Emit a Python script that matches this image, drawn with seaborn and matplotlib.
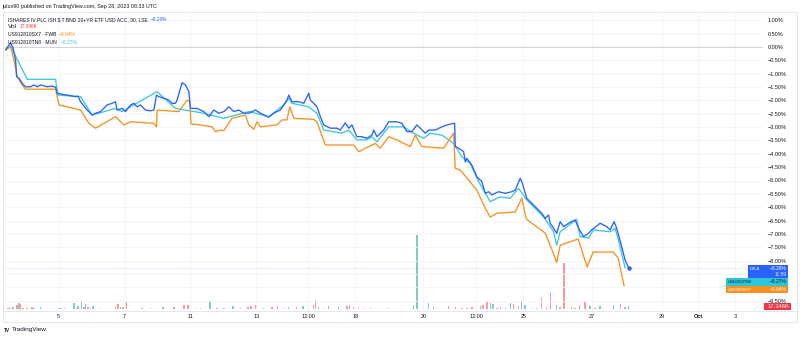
import matplotlib
matplotlib.use("Agg")
import matplotlib.pyplot as plt
from matplotlib.patches import Rectangle
import numpy as np
import pandas as pd
import seaborn as sns

sns.set_theme(style="white")
plt.rcParams['font.family'] = ['Liberation Sans', 'DejaVu Sans']

# ---------------- data (x = 30-min bar index, y = % change) ----------------
dtla_x = [0, 1.7, 2.5, 3.8, 5, 5.5, 6.7, 8.3, 10, 12.5, 14.2, 15.8, 17.5, 20.8, 23.3, 25, 25.8, 27.5, 30.8, 35,
          36.2, 37.5, 40.8, 43.3, 45, 47.5, 50.8, 53.3, 55, 55.8, 58.3, 60, 62.5, 64.2, 65.8, 67.5, 70, 72.5, 74.2,
          75.5, 76.7, 79.2, 81.7, 83.3, 85, 85.8, 88.3, 90, 91.7, 92.5, 95.8, 99.2, 101.7, 104.2, 106.7, 109.2,
          111.7, 114.2, 116.7, 119.2, 121.7, 125, 127.5, 131.7, 134.2, 137.5, 140.8, 141.7, 143.3, 146.7, 149.2,
          151.7, 152.5, 154.2, 155.8, 157.5, 159.2, 162.5, 165.8, 167.5, 170, 171.7, 173.3, 175.8, 178.3, 180.8,
          183.3, 184.2, 185.8, 189.2, 191.7, 195.8, 198.3, 200.8, 203.3, 205.8, 207.5, 210, 211.7, 215, 218.3,
          220.8, 224.2, 224.7, 225, 226.7, 229.2, 230, 230.8, 233.3, 235.8, 238.3, 240, 241.7, 243.3, 246.7, 250,
          253.3, 255, 257.5, 258.3, 260.8, 264.2, 268.3, 270, 271.7, 272.5, 274.2, 275.8, 277.5, 279.2, 281.7,
          285, 286.7, 289.2, 291.7, 293.3, 297.5, 300.8, 302.5, 304.5, 305.8, 308.3, 310, 311.7]
dtla_y = [-0.11, 0.07, 0.16, -0.05, -0.49, -1.11, -1.17, -1.36, -1.49, -1.49, -1.42, -1.49, -1.42, -1.49, -1.46,
          -1.51, -1.73, -1.76, -1.80, -1.86, -1.84, -2.05, -2.36, -2.55, -2.48, -2.42, -2.17, -2.11, -2.05, -2.36,
          -2.30, -2.42, -2.17, -2.11, -2.24, -2.17, -2.36, -2.39, -2.36, -1.80, -1.86, -1.92, -1.99, -2.11, -2.11,
          -1.99, -1.34, -1.42, -1.67, -2.30, -2.30, -2.42, -2.61, -2.36, -2.48, -2.42, -2.24, -2.42, -2.36, -2.48,
          -2.48, -2.36, -2.48, -2.63, -2.48, -2.36, -1.99, -1.80, -2.05, -2.05, -2.11, -1.73, -1.99, -2.11, -2.24,
          -2.61, -2.92, -3.04, -3.04, -3.11, -2.84, -3.04, -2.92, -3.36, -3.36, -3.42, -3.30, -3.11, -3.36, -3.11,
          -2.80, -2.80, -2.86, -3.17, -3.17, -2.92, -3.04, -3.23, -3.11, -3.11, -2.99, -2.92, -2.86, -2.86, -3.73,
          -3.79, -3.92, -4.30, -4.17, -4.42, -4.86, -5.04, -5.48, -5.42, -5.54, -5.42, -5.48, -5.42, -5.36, -4.92,
          -5.04, -5.67, -5.92, -6.23, -6.42, -6.29, -6.60, -6.79, -6.98, -6.54, -6.73, -6.60, -6.48, -6.79, -7.10,
          -6.98, -6.85, -6.60, -6.73, -6.85, -6.54, -6.79, -7.48, -7.98, -8.26]

mun_x = [0, 2.5, 10.8, 25, 26.2, 37.5, 43.3, 55, 58.3, 75.8, 85, 99.2, 109.2, 121.7, 131.7, 139.2, 141.7, 143.3,
         151.7, 155.8, 159.2, 168.3, 171.7, 175.8, 180.8, 183.3, 185.8, 191.7, 199.2, 204.2, 209.2, 212.5, 218.3,
         224.2, 228.3, 232.5, 236.7, 242.5, 247.5, 252.5, 256.7, 260.8, 269.2, 274.2, 275.8, 277.5, 285.8, 287.5,
         291.7, 294.2, 302.5, 305, 306.7, 310]
mun_y = [-0.11, 0.04, -1.21, -1.21, -1.80, -1.86, -2.55, -2.30, -2.42, -1.67, -2.30, -2.48, -2.67, -2.42, -2.61,
         -2.17, -1.92, -2.11, -2.24, -2.48, -3.11, -3.23, -3.11, -3.48, -3.48, -3.36, -3.55, -2.99, -2.99, -3.23,
         -3.42, -3.23, -3.30, -3.61, -4.11, -4.36, -5.04, -5.79, -5.61, -5.67, -5.29, -5.73, -6.36, -6.92, -7.42,
         -6.92, -6.45, -7.10, -7.16, -6.85, -6.92, -6.79, -7.23, -8.27]

fwb_x = [0, 2.5, 4.2, 5.8, 8.3, 10, 25, 26.7, 37.5, 41.7, 45, 55, 59.2, 62.5, 74.2, 75.5, 75.8, 86.7, 90.8, 92.2,
         92.8, 97.5, 103.3, 105, 107.5, 109.2, 113.3, 120, 121.7, 124.2, 125.8, 127.5, 135.8, 138.3, 140.8, 142.2,
         144.2, 154.2, 155.8, 160, 174.2, 176.7, 185, 187.5, 191.7, 195.8, 202.5, 205, 208.3, 219.2, 224.2, 225,
         227.5, 235.8, 240, 242.5, 246, 255, 258.3, 260.5, 270, 272.5, 275.8, 277.5, 286.5, 291, 294, 304, 306.5,
         309.5]
fwb_y = [-0.11, 0.01, -0.49, -1.11, -1.42, -1.58, -1.58, -2.17, -2.36, -2.86, -3.04, -2.61, -2.92, -2.80, -2.86,
         -2.99, -2.36, -2.42, -1.99, -2.05, -2.88, -2.92, -2.99, -3.17, -3.11, -3.13, -2.67, -2.55, -2.92, -3.08,
         -2.80, -2.99, -2.92, -2.73, -2.73, -2.24, -2.67, -2.71, -2.80, -3.67, -3.67, -3.92, -3.61, -3.79, -3.36,
         -3.48, -3.73, -3.30, -3.73, -3.79, -3.23, -4.54, -4.61, -5.36, -6.04, -6.37, -6.22, -6.18, -5.66, -6.44,
         -6.97, -7.42, -8.07, -7.42, -7.19, -8.24, -7.68, -7.68, -7.90, -8.95]

# volume (thousands) per bar, up=1 teal / 0 red
vol_x = [1.2, 2.2, 3.8, 5.8, 6.7, 7.5, 8.8, 10.8, 13.3, 14.2, 17.5, 21.7, 24.2, 26.7, 27.8, 29.5, 31.7, 34.2,
         35.5, 36.2, 38, 39.2, 40, 41.3, 42.5, 43.7, 47, 50, 52.5, 55, 56.3, 57.5, 58.8, 60.3, 64.2, 68.3, 72.5,
         75, 78.8, 84.2, 86.7, 89.2, 91.3, 95, 97.5, 102.2, 105.8, 109.2, 113.8, 117.5, 121.2, 122.8, 125.3,
         129.2, 133.3, 136.2, 139.2, 141.7, 145.5, 148.8, 151.7, 154.2, 155, 156.7, 159.2, 161.7, 166.7, 170.8,
         172.2, 174.2, 176.7, 179.2, 182.5, 187.5, 191.7, 195, 204.2, 205.8, 211.7, 214.2, 217.5, 221.7, 225,
         228.3, 230.8, 233.3, 235.5, 237.5, 238.8, 240.8, 242.5, 243.8, 245.8, 247.5, 250, 252.5, 254.2, 256.7,
         258.3, 260, 263.3, 265.8, 268.3, 270.8, 272.8, 275.8, 277.5, 279.5, 283.3, 285, 287.2, 290, 292.5, 295,
         297.5, 300.8, 304.2, 307.8, 310, 311.7]
vol_k = [5, 9, 14, 23, 32, 28, 7, 5, 14, 7, 14, 4, 4, 7, 7, 7, 4, 32, 7, 18, 40, 14, 28, 14, 7, 18, 9, 4, 4,
         14, 28, 14, 10, 40, 4, 7, 7, 4, 12, 10, 4, 21, 23, 7, 5, 44, 5, 5, 19, 5, 14, 19, 25, 9, 14, 18, 5, 10,
         14, 18, 21, 23, 49, 14, 7, 18, 10, 18, 21, 14, 7, 5, 7, 4, 7, 4, 23, 390, 32, 10, 4, 18, 14, 9, 5, 14,
         18, 18, 23, 40, 35, 28, 7, 10, 5, 32, 26, 18, 46, 23, 5, 7, 58, 10, 89, 23, 14, 242, 14, 9, 23, 40, 18,
         5, 18, 4, 23, 28, 10, 17.346]
vol_up = [0, 0, 0, 1, 0, 0, 0, 0, 0, 0, 1, 0, 1, 1, 1, 0, 0, 1, 0, 1, 1, 0, 1, 0, 0, 1, 0, 0, 0, 0, 0, 1, 0,
          0, 0, 0, 0, 0, 1, 0, 0, 0, 0, 0, 0, 1, 0, 1, 1, 0, 0, 0, 0, 1, 0, 0, 1, 0, 0, 1, 1, 0, 0, 1, 0, 1, 1,
          0, 0, 0, 0, 0, 1, 0, 1, 0, 1, 1, 1, 1, 0, 0, 0, 0, 0, 0, 0, 0, 0, 0, 1, 1, 0, 0, 0, 1, 0, 0, 1, 1, 0,
          0, 0, 0, 0, 1, 0, 0, 0, 0, 0, 0, 1, 0, 1, 0, 1, 0, 1, 1]

tick_pos = [26.5, 59.5, 92.5, 125.5, 151.5, 175, 209, 235.5, 259, 293.5, 328.5, 346.5, 365]
tick_lab = ["5", "7", "11", "13", "12:00", "18", "20", "12:00", "25", "27", "29", "Oct", "3"]
y_ticks = [1.0 - 0.5 * i for i in range(22)]
y_hidden = [-8.5, -9.0]   # covered by the last-value labels

# ---------------- layout ----------------
W, H = 800, 338
fig = plt.figure(figsize=(W / 100, H / 100), dpi=100)
fig.patch.set_facecolor("white")
renderer = fig.canvas.get_renderer()
L, R, T, B = 5, 763, 13, 311
pos = [L / W, 1 - B / H, (R - L) / W, (B - T) / H]

vax = fig.add_axes(pos)
ax = fig.add_axes(pos, sharex=vax)
ax.patch.set_alpha(0)

XMIN, XMAX = -0.3, 379
TEXT = "#131722"
FS = 4.0

# volume
vdf = pd.DataFrame({"x": vol_x, "k": vol_k, "up": vol_up})
vcol = ["#089981" if u else "#F23645" for u in vdf.up]
vax.bar(vdf.x, vdf.k, width=0.7, color=vcol, alpha=0.5, linewidth=0)
vax.set_ylim(-9, 1565)
vax.set_yticks([])
vax.tick_params(axis="x", which="both", length=0, labelbottom=False, labeltop=False)
for s in vax.spines.values():
    s.set_visible(False)
vax.set_xlim(XMIN, XMAX)

# gridlines
for v in y_ticks:
    ax.axhline(v, color="#F3F4F8", lw=0.6, zorder=0)
for p in tick_pos:
    ax.axvline(p, color="#F3F4F8", lw=0.6, zorder=0)
ax.axhline(0, color="#D1D4DC", lw=0.8, zorder=1)
ax.axhline(-8.26, color="#2962FF", lw=0.6, ls=(0, (1, 1.5)), alpha=0.3, zorder=1)

series = [(mun_x, mun_y, "#3CC9D9"), (fwb_x, fwb_y, "#F7921E"), (dtla_x, dtla_y, "#2962FF")]
for xs, ys, c in series:
    sns.lineplot(x=xs, y=ys, ax=ax, color=c, lw=0.95, sort=False, estimator=None, zorder=3)
ax.plot([dtla_x[-1]], [dtla_y[-1]], "o", color="#2962FF", ms=2.2, zorder=4)

ax.set_xlim(XMIN, XMAX)
ax.set_ylim((47 - B) / 26.7, (47 - T) / 26.7)
ax.yaxis.tick_right()
ax.set_yticks(y_ticks)
ax.set_yticklabels(["" if v in y_hidden else f"{v:.2f}%".replace("-", "\u2212") for v in y_ticks])
ax.tick_params(axis="y", length=0, pad=3.2, labelsize=FS, labelcolor=TEXT)
ax.set_xticks(tick_pos)
ax.set_xticklabels(tick_lab)
ax.tick_params(axis="x", length=0, pad=2.2, labelsize=FS, labelcolor=TEXT, labelbottom=True)
for lab in ax.get_xticklabels():
    if lab.get_text() == "Oct":
        lab.set_fontweight("bold")
ax.set_xlabel("")
ax.set_ylabel("")
for s in ax.spines.values():
    s.set_visible(False)

# frames
fig.add_artist(Rectangle((3 / W, 1 - 322 / H), 794 / W, 310 / H, transform=fig.transFigure,
                         fill=False, edgecolor="#E0E3EB", lw=0.6))
fig.add_artist(plt.Line2D([3 / W, 797 / W], [1 - B / H, 1 - B / H], transform=fig.transFigure,
                          color="#E0E3EB", lw=0.6))


def box(x0, y0, x1, y1, color):
    fig.add_artist(Rectangle((x0 / W, 1 - y1 / H), (x1 - x0) / W, (y1 - y0) / H,
                             transform=fig.transFigure, color=color, lw=0, zorder=10))


def txt(x, y, s, color=TEXT, ha="left", size=FS, weight="normal", width=None):
    t = fig.text(x / W, 1 - y / H, s, color=color, ha=ha, va="center", fontsize=size,
                 fontweight=weight, zorder=11)
    if width is not None:
        w = t.get_window_extent(renderer).width
        t.set_fontsize(size * width / w)
    return t


# right-side value labels
box(748, 264.5, 788, 279.5, "#2962FF")
txt(749.5, 268.6, "DTLA", "white", width=10)
txt(786.5, 268.6, "\u22128.26%", "white", ha="right", width=17)
txt(786.5, 275, "11:59", "#DDE5FF", ha="right", width=12)
box(726, 277.8, 788, 285.6, "#2CC5D8")
txt(728, 281.8, "US912810TN8", TEXT, width=24)
txt(786.5, 281.8, "\u22128.27%", TEXT, ha="right", width=17)
box(726, 285.6, 788, 293.4, "#F7921E")
txt(728, 289.6, "US912810SX7", "white", width=24)
txt(786.5, 289.6, "\u22128.94%", "white", ha="right", width=17)
box(764, 302.6, 791, 309.6, "#F23645")
txt(789.5, 306.2, "17.346K", "white", ha="right", width=22)

# header legend
txt(2, 6.5, "julux90 published on TradingView.com, Sep 28, 2023 08:33 UTC", width=153)
txt(8, 19.3, "ISHARES IV PLC ISH $ T BND 20+YR ETF USD ACC, 30, LSE", width=139)
txt(151, 19.3, "\u22128.26%", "#2962FF", width=16)
txt(8, 26.5, "Vol", width=9)
txt(19.5, 26.5, "17.346K", "#F23645", width=18)
txt(8, 34.2, "US912810SX7 \u00b7 FWB", width=48)
txt(59, 34.2, "\u22128.94%", "#F7921E", width=17)
txt(8, 42, "US912810TN8 \u00b7 MUN", width=49)
txt(61, 42, "\u22128.27%", "#3CC9D9", width=17)

# footer
txt(4, 330, "TV", TEXT, weight="bold", width=6)
txt(12, 330, "TradingView", TEXT, width=35)

fig.savefig("out.png", dpi=100, facecolor="white")
